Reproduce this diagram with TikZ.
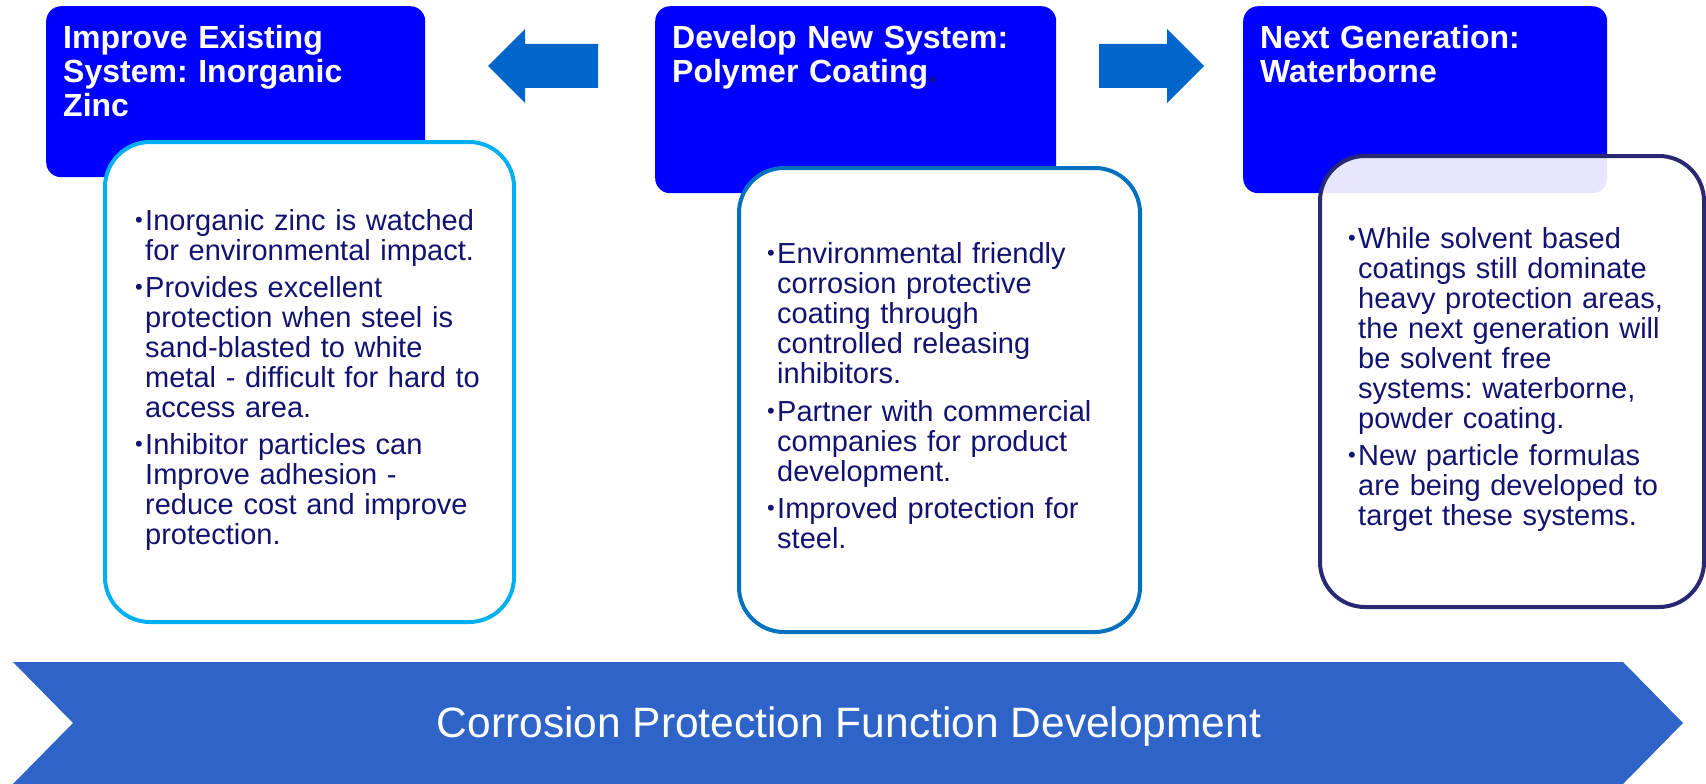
\documentclass[tikz,border=0pt]{standalone}
\usepackage{fontspec}
\setmainfont{Liberation Sans}
\frenchspacing
\definecolor{hdrblue}{RGB}{0,0,255}
\definecolor{navytext}{RGB}{18,18,112}
\definecolor{arrowblue}{RGB}{0,102,204}
\definecolor{chevblue}{RGB}{46,99,200}
\definecolor{cyanline}{RGB}{0,176,240}
\definecolor{midline}{RGB}{0,112,192}
\definecolor{darkline}{RGB}{40,40,115}
\newcommand\bitem{\makebox[10pt][l]{\raisebox{2.3pt}{\fontsize{22}{30}\selectfont\textbullet}}}
\newcommand\bindent{\hspace*{10pt}}
\begin{document}
\begin{tikzpicture}[x=1pt,y=-1pt,
 hdr/.style={fill=hdrblue, rounded corners=15pt, draw=none, inner sep=0pt, anchor=north west},
 htext/.style={text=white, font=\fontsize{32}{34}\selectfont\bfseries, align=left, text width=360pt, inner sep=0pt, anchor=base west},
 card/.style={fill=white, line width=4pt, rounded corners=45pt, inner sep=0pt, anchor=north west},
 btext/.style={text=navytext, font=\fontsize{29}{30}\selectfont, align=left, text width=380pt, inner sep=0pt, anchor=base west},
 blockarrow/.style={fill=arrowblue},
]
\useasboundingbox (0,0) rectangle (1706,784);

% headers
\node[hdr, minimum width=379pt, minimum height=171pt] (h1) at (46,6) {};
\node[hdr, minimum width=401pt, minimum height=187pt] (h2) at (655,6) {};
\node[hdr, minimum width=364pt, minimum height=187pt] (h3) at (1243,6) {};

\node[htext] (h1t) at (63,49) {Improve Existing\\System: Inorganic\\Zinc};
\node[htext] (h2t) at (672,49) {Develop New System:\\Polymer Coating{\color{navytext}.}};
\node[htext] (h3t) at (1260,49) {Next Generation:\\Waterborne};

% cards
\node[card, draw=cyanline, minimum width=409pt, minimum height=480pt] (c1) at (103,140) {};
\node[card, draw=midline, minimum width=401pt, minimum height=464pt] (c2) at (737,166) {};
\node[card, draw=darkline, fill opacity=0.9, minimum width=384pt, minimum height=451pt] (c3) at (1318,154) {};

\node[btext] (c1t) at (135,230) {\bitem Inorganic zinc is watched\\
\bindent for environmental impact.\\[7pt]
\bitem Provides excellent\\
\bindent protection when steel is\\
\bindent sand-blasted to white\\
\bindent metal - difficult for hard to\\
\bindent access area.\\[7pt]
\bitem Inhibitor particles can\\
\bindent Improve adhesion -\\
\bindent reduce cost and improve\\
\bindent protection.};

\node[btext] (c2t) at (767,263) {\bitem Environmental friendly\\
\bindent corrosion protective\\
\bindent coating through\\
\bindent controlled releasing\\
\bindent inhibitors.\\[8pt]
\bitem Partner with commercial\\
\bindent companies for product\\
\bindent development.\\[7pt]
\bitem Improved protection for\\
\bindent steel.};

\node[btext] (c3t) at (1348,248) {\bitem While solvent based\\
\bindent coatings still dominate\\
\bindent heavy protection areas,\\
\bindent the next generation will\\
\bindent be solvent free\\
\bindent systems: waterborne,\\
\bindent powder coating.\\[7pt]
\bitem New particle formulas\\
\bindent are being developed to\\
\bindent target these systems.};

% block arrows
\fill[blockarrow] (488,66) -- (525,29) -- (525,44) -- (598,44) -- (598,88) -- (525,88) -- (525,103) -- cycle;
\fill[blockarrow] (1204,66) -- (1167,29) -- (1167,44) -- (1099,44) -- (1099,88) -- (1167,88) -- (1167,103) -- cycle;

% bottom chevron
\fill[chevblue] (13,662) -- (1623,662) -- (1683,723) -- (1623,784) -- (13,784) -- (73,723) -- cycle;
\node[font=\fontsize{42.5}{50}\selectfont, text=white, anchor=base, inner sep=0pt] (band) at (849,737) {Corrosion Protection Function Development};
\end{tikzpicture}
\end{document}
